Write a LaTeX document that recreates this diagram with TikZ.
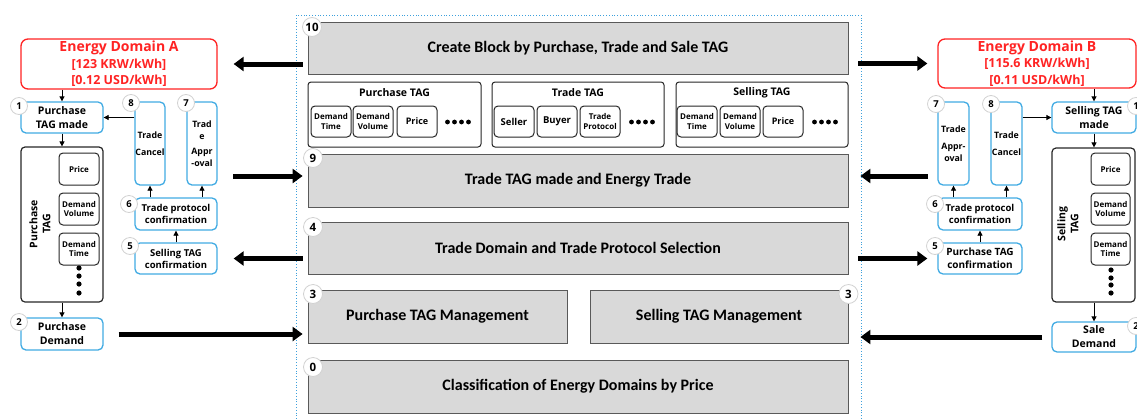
\documentclass[tikz,border=0pt]{standalone}
\usepackage{fontspec}
\setmainfont{Open Sans}
\newfontfamily\calfont{Carlito}
\usetikzlibrary{arrows.meta,shadows,calc}
\definecolor{boxgray}{HTML}{D9D9D9}
\definecolor{boxline}{HTML}{595959}
\definecolor{skyb}{HTML}{41ABE3}
\definecolor{redd}{HTML}{FF2323}
\definecolor{frameb}{HTML}{3DA0DC}
\newcommand\bx[7]{%
 \pgfmathsetmacro\myW{#4-#2}\pgfmathsetmacro\myH{#5-#3}%
 \pgfmathsetmacro\myX{(#2+#4)/2}\pgfmathsetmacro\myY{(#3+#5)/2}%
 \node[#6, minimum width=\myW pt, minimum height=\myH pt, inner sep=0pt] (#1) at (\myX,\myY) {#7};}
\newcommand\fs[2]{\fontsize{#1}{#2}\selectfont}
\begin{document}
\begin{tikzpicture}[x=1pt,y=-1pt,
 graybox/.style={draw=boxline, fill=boxgray, line width=0.8pt,
   drop shadow={shadow xshift=1.4pt, shadow yshift=-1.4pt, fill=black!50},
   font=\calfont\bfseries\fs{16}{18}},
 tagbox/.style={draw=black!85, rounded corners=3pt, line width=1pt, fill=white},
 inbox/.style={draw=black!85, rounded corners=4pt, line width=1pt, align=center, font=\bfseries\fs{8}{9.5}},
 bluebox/.style={draw=skyb, rounded corners=5pt, line width=1.3pt, fill=white, align=center, font=\bfseries\fs{10.5}{14}},
 redbox/.style={draw=redd, rounded corners=7pt, line width=1.3pt, fill=white, align=center, text=redd, font=\bfseries\fs{12.5}{16.5}},
 blackbox/.style={draw=black!85, rounded corners=4pt, line width=1.2pt},
 num/.style={circle, draw=gray!35, fill=white, line width=0.8pt, minimum size=19pt, inner sep=0pt, font=\bfseries\fs{11.5}{12}},
 snum/.style={num, minimum size=17pt, font=\bfseries\fs{9.5}{10}},
 bigarrow/.style={line width=5pt, -{Triangle[width=14pt,length=10pt]}},
 thinarrow/.style={line width=0.8pt, -{Triangle[width=5pt,length=5pt]}}
]
\useasboundingbox (0,0) rectangle (1137,418);
% dotted frame
\draw[frameb, dotted, line width=0.8pt] (296,15) rectangle (861,430);

% ---------- center ----------
\bx{b10}{308}{22}{848}{74}{graybox}{Create Block by Purchase, Trade and Sale TAG}
\bx{tagP}{308}{82}{481}{147}{tagbox}{}
\bx{tagT}{492}{82}{664}{147}{tagbox}{}
\bx{tagS}{676}{82}{848}{147}{tagbox}{}
\node[font=\bfseries\fs{10.5}{12}] (tagPt) at ($(tagP.north)+(0,11)$) {Purchase TAG};
\node[font=\bfseries\fs{10.5}{12}] (tagTt) at ($(tagT.north)+(0,11)$) {Trade TAG};
\node[font=\bfseries\fs{10.5}{12}] (tagSt) at ($(tagS.north)+(0,11)$) {Selling TAG};
\bx{pDT}{311}{106}{351}{137}{inbox}{Demand\\Time}
\bx{pDV}{353}{106}{393}{137}{inbox}{Demand\\Volume}
\bx{pPr}{397}{106}{437}{137}{inbox, font=\bfseries\fs{9}{10}}{Price}
\bx{tSe}{494}{106}{534}{137}{inbox, font=\bfseries\fs{9.5}{10}}{Seller}
\bx{tBu}{537}{106}{577}{137}{inbox, font=\bfseries\fs{9.5}{10}}{Buyer}
\bx{tTP}{580}{106}{620}{137}{inbox}{Trade\\Protocol}
\bx{sDT}{677}{106}{717}{137}{inbox}{Demand\\Time}
\bx{sDV}{720}{106}{760}{137}{inbox}{Demand\\Volume}
\bx{sPr}{763}{106}{803}{137}{inbox, font=\bfseries\fs{9}{10}}{Price}
\foreach \cx in {458,642,825}{
  \foreach \k in {-1.5,-0.5,0.5,1.5}{\fill (\cx+7*\k,122) circle (2.4pt);}}
\bx{b9}{308}{154}{848}{207}{graybox}{Trade TAG made and Energy Trade}
\bx{b4}{308}{222}{848}{274}{graybox}{Trade Domain and Trade Protocol Selection}
\bx{b3L}{308}{290}{567}{343}{graybox}{Purchase TAG Management}
\bx{b3R}{590}{290}{848}{343}{graybox}{Selling TAG Management}
\bx{b0}{308}{360}{848}{413}{graybox}{Classification of Energy Domains by Price}
\node[num] (n10) at (312,27) {10};
\node[num] (n9) at (313,158) {9};
\node[num] (n4) at (313,227) {4};
\node[num] (n3L) at (313,294) {3};
\node[num] (n3R) at (848.5,294) {3};
\node[num] (n0) at (313,367) {0};

% ---------- left side ----------
\bx{edA}{21}{39}{217}{89}{redbox}{{\fs{14}{16}Energy Domain A}\\{}[123 KRW/kWh]\\{}[0.12 USD/kWh]}
\bx{puM}{21}{102}{103}{133}{bluebox}{Purchase\\TAG made}
\bx{tc8}{135}{102}{165}{185}{bluebox, font=\bfseries\fs{8.8}{17}}{Trade\\Cancel}
\bx{ta7}{187}{102}{217}{185}{bluebox, font=\bfseries\fs{8.8}{12}}{Trad\\e\\[3pt]Appr\\-oval}
\bx{tp6}{135}{198}{217}{230}{bluebox, font=\bfseries\fs{9.5}{12}}{Trade protocol\\confirmation}
\bx{sc5}{135}{243}{217}{274}{bluebox, font=\bfseries\fs{9.5}{12}}{Selling TAG\\confirmation}
\bx{ptag}{21}{147}{103}{302}{blackbox}{}
\node[rotate=90, align=center, font=\bfseries\fs{10.5}{13}] (ptagl) at (40,224) {Purchase\\TAG};
\bx{lPr}{59}{153}{99}{185}{inbox}{Price}
\bx{lDV}{59}{193}{99}{225}{inbox}{Demand\\Volume}
\bx{lDT}{59}{233}{99}{265}{inbox}{Demand\\Time}
\foreach \yy in {268,276,284,293}{\fill (79,\yy) circle (2.6pt);}
\bx{pd2}{21}{318}{103}{350}{bluebox}{Purchase\\Demand}
\node[snum] (c1) at (19,106) {1};
\node[snum] (c8) at (131,103) {8};
\node[snum] (c7) at (186,103) {7};
\node[snum] (c6) at (129,204) {6};
\node[snum] (c5) at (130,246) {5};
\node[snum] (c2) at (19,322) {2};

\draw[thinarrow] (puM.north |- edA.south) -- (puM.north);
\draw[thinarrow] (puM.south) -- (puM.south |- ptag.north);
\draw[thinarrow] (pd2.north |- ptag.south) -- (pd2.north);
\draw[thinarrow] (tc8.west |- puM.east) -- (puM.east);
\draw[thinarrow] (tc8.south |- tp6.north) -- (tc8.south);
\draw[thinarrow] (ta7.south |- tp6.north) -- (ta7.south);
\draw[thinarrow] (tp6.south |- sc5.north) -- (tp6.south);

% ---------- right side ----------
\bx{edB}{938}{39}{1136}{88}{redbox}{{\fs{14}{16}Energy Domain B}\\{}[115.6 KRW/kWh]\\{}[0.11 USD/kWh]}
\bx{smB}{1052}{102}{1136}{133}{bluebox}{Selling TAG\\made}
\bx{ta7R}{938}{102}{969}{185}{bluebox, font=\bfseries\fs{8.8}{12}}{Trade\\[5pt]Appr-\\oval}
\bx{tc8R}{991}{102}{1022}{185}{bluebox, font=\bfseries\fs{8.8}{17}}{Trade\\Cancel}
\bx{tp6R}{938}{198}{1022}{230}{bluebox, font=\bfseries\fs{9.5}{12}}{Trade protocol\\confirmation}
\bx{pc5}{938}{243}{1022}{274}{bluebox, font=\bfseries\fs{10}{13}}{Purchase TAG\\confirmation}
\bx{stag}{1052}{148}{1135}{302}{blackbox}{}
\node[rotate=90, align=center, font=\bfseries\fs{10.5}{13}] (stagl) at (1068,224) {Selling\\TAG};
\bx{rPr}{1091}{153}{1130}{185}{inbox}{Price}
\bx{rDV}{1091}{193}{1130}{225}{inbox}{Demand\\Volume}
\bx{rDT}{1091}{233}{1130}{265}{inbox}{Demand\\Time}
\foreach \yy in {270,278,285,293}{\fill (1111,\yy) circle (2.6pt);}
\bx{sd2}{1052}{322}{1136}{352}{bluebox}{Sale\\Demand}
\node[snum] (d1) at (1136,106) {1};
\node[snum] (d7) at (936,104) {7};
\node[snum] (d8) at (991,104) {8};
\node[snum] (d6) at (935,204) {6};
\node[snum] (d5) at (935,246) {5};
\node[snum] (d2) at (1136,326) {2};

\draw[thinarrow] (smB.north |- edB.south) -- (smB.north);
\draw[thinarrow] (smB.south) -- (smB.south |- stag.north);
\draw[thinarrow] (sd2.north |- stag.south) -- (sd2.north);
\draw[thinarrow] (tc8R.east |- smB.west) -- (smB.west);
\draw[thinarrow] (tc8R.south |- tp6R.north) -- (tc8R.south);
\draw[thinarrow] (ta7R.south |- tp6R.north) -- (ta7R.south);
\draw[thinarrow] (tp6R.south |- pc5.north) -- (tp6R.south);

% ---------- thick arrows ----------
\coordinate (l9) at (217,176);
\coordinate (r9) at (938,176);
\draw[bigarrow, shorten <=5pt, shorten >=16pt] (b10.west |- edA.east) -- (edA.east);
\draw[bigarrow, shorten <=16pt, shorten >=5pt] (l9) -- (l9 -| b9.west);
\draw[bigarrow, shorten <=5pt, shorten >=16pt] (b4.west |- sc5.east) -- (sc5.east);
\draw[bigarrow, shorten <=15pt, shorten >=5pt] (pd2.east) -- (pd2.east -| b3L.west);
\draw[bigarrow, shorten <=10pt, shorten >=10pt] (b10.east |- edB.west) -- (edB.west);
\draw[bigarrow, shorten <=10pt, shorten >=12pt] (r9) -- (r9 -| b9.east);
\draw[bigarrow, shorten <=10pt, shorten >=10pt] (b4.east |- pc5.west) -- (pc5.west);
\draw[bigarrow, shorten <=9pt, shorten >=12pt] (sd2.west) -- (sd2.west -| b3R.east);
\end{tikzpicture}
\end{document}
